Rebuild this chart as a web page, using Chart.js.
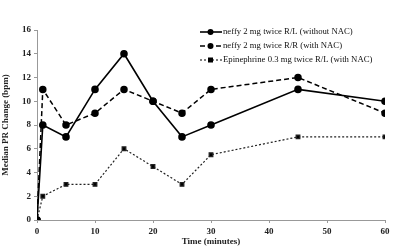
<!DOCTYPE html>
<html>
<head>
<meta charset="utf-8">
<script src="https://cdn.jsdelivr.net/npm/chart.js@4"></script>
<style>
  body { margin: 0; background: #fff; }
  #wrap { width: 400px; height: 251px; }
</style>
</head>
<body>
<div id="wrap"><canvas id="prChart"></canvas></div>
<script>
const times = [0, 1, 5, 10, 15, 20, 25, 30, 45, 60];
const neffyRL = [0, 8, 7, 11, 14, 10, 7, 8, 11, 10];
const neffyRR = [0, 11, 8, 9, 11, 10, 9, 11, 12, 9];
const epiRL = [0, 2, 3, 3, 6, 4.5, 3, 5.5, 7, 7];
const labels = [
  "neffy 2 mg twice R/L (without NAC)",
  "neffy 2 mg twice R/R (with NAC)",
  "Epinephrine 0.3 mg twice R/L (with NAC)"
];

const pts = arr => arr.map((v, i) => ({ x: times[i], y: v }));
const serif = "'Liberation Serif', 'Times New Roman', serif";

// legend drawn by hand: line sample with marker in the middle
const sideLegend = {
  id: "sideLegend",
  afterDraw(chart) {
    const c = chart.ctx;
    const rows = [32, 46, 60];
    chart.data.datasets.forEach((ds, i) => {
      const y = rows[i];
      c.save();
      c.strokeStyle = "#000";
      c.lineWidth = ds.borderWidth;
      c.setLineDash(ds.borderDash || []);
      c.beginPath();
      c.moveTo(200, y);
      c.lineTo(222, y);
      c.stroke();
      c.setLineDash([]);
      c.fillStyle = "#000";
      if (ds.pointStyle === "rect") {
        c.fillRect(208, y - 2.5, 5, 5);
      } else {
        c.beginPath();
        c.arc(210.5, y, 3, 0, Math.PI * 2);
        c.fill();
      }
      c.font = "8.7px " + serif;
      c.textBaseline = "middle";
      c.fillStyle = "#111";
      c.fillText(ds.label, 223, y);
      c.restore();
    });
  }
};

const ctx = document.getElementById("prChart").getContext("2d");
new Chart(ctx, {
  type: "line",
  data: {
    datasets: [
      {
        label: labels[0],
        data: pts(neffyRL),
        borderColor: "#000",
        backgroundColor: "#000",
        borderWidth: 1.6,
        pointStyle: "circle",
        pointRadius: 3
      },
      {
        label: labels[1],
        data: pts(neffyRR),
        borderColor: "#000",
        backgroundColor: "#000",
        borderWidth: 1.5,
        borderDash: [5, 3],
        pointStyle: "circle",
        pointRadius: 3
      },
      {
        label: labels[2],
        data: pts(epiRL),
        borderColor: "#222",
        backgroundColor: "#000",
        borderWidth: 1.2,
        borderDash: [2, 2],
        pointStyle: "rect",
        pointRadius: 2.6
      }
    ]
  },
  options: {
    responsive: true,
    maintainAspectRatio: false,
    animation: false,
    layout: { padding: { top: 30, right: 15, left: 0, bottom: 4 } },
    plugins: {
      legend: { display: false },
      tooltip: { enabled: false }
    },
    scales: {
      x: {
        type: "linear",
        min: 0,
        max: 60,
        ticks: {
          stepSize: 10,
          color: "#222",
          padding: 3,
          font: { family: serif, size: 9, weight: "bold" }
        },
        grid: { drawOnChartArea: false, drawTicks: true, tickLength: 3, color: "#999" },
        border: { color: "#999" },
        title: {
          display: true,
          text: "Time (minutes)",
          color: "#222",
          padding: { top: 2, bottom: 0 },
          font: { family: serif, size: 9, weight: "bold" }
        },
        afterFit: s => { s.height = 27; }
      },
      y: {
        min: 0,
        max: 16,
        ticks: {
          stepSize: 2,
          color: "#222",
          padding: 3,
          font: { family: serif, size: 9, weight: "bold" }
        },
        grid: { drawOnChartArea: false, drawTicks: true, tickLength: 3, color: "#999" },
        border: { color: "#999" },
        title: {
          display: true,
          text: "Median PR Change (bpm)",
          color: "#222",
          padding: { top: 0, bottom: 2 },
          font: { family: serif, size: 9, weight: "bold" }
        },
        afterFit: s => { s.width = 37; }
      }
    }
  },
  plugins: [sideLegend]
});
</script>
</body>
</html>
